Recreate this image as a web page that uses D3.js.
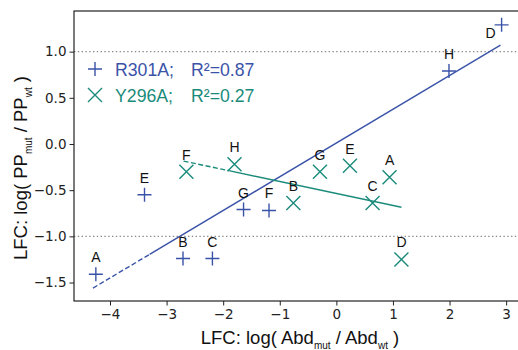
<!DOCTYPE html>
<html>
<head>
<meta charset="utf-8">
<script src="https://cdn.jsdelivr.net/npm/d3@7"></script>
<style>
  body { margin: 0; background: #fff; }
  svg { font-family: "Liberation Sans", Arial, sans-serif; }
  .tick text { font-size: 13.5px; fill: #222; }
  .pt-label { font-size: 14px; fill: #111; text-anchor: middle; }
</style>
</head>
<body>
<svg width="518" height="350"></svg>
<script>
// **** data ****
var labels = ['A', 'B', 'C', 'D', 'E', 'F', 'G', 'H'];

var r301X = [-4.25, -2.71, -2.19, 2.92, -3.39, -1.19, -1.64, 1.99];
var r301Y = [-1.41, -1.24, -1.24, 1.29, -0.55, -0.72, -0.71, 0.79];

var y296X = [0.94, -0.76, 0.64, 1.15, 0.24, -2.65, -0.29, -1.80];
var y296Y = [-0.36, -0.64, -0.64, -1.25, -0.235, -0.30, -0.30, -0.22];

// fitted lines (start, end of dashed bit, end)
var fitR301X = [-4.3, -3.3, 2.9];
var fitR301Y = [-1.56, -1.195, 1.07];
var fitY296X = [-2.7, -1.9, 1.15];
var fitY296Y = [-0.185, -0.289, -0.685];

var xTicks = [-4, -3, -2, -1, 0, 1, 2, 3];
var yTicks = [-1.5, -1.0, -0.5, 0.0, 0.5, 1.0];
var refLines = [1.0, -1.0];

var blue = '#3a53a8';
var teal = '#1a8b7b';

// **** scales ****
var xScale = d3.scaleLinear().domain([-4.636, 3.245]).range([74, 520]);
var yScale = d3.scaleLinear().domain([-1.70, 1.44]).range([301, 11]);

var svg = d3.select('svg');

// dotted reference lines
svg.selectAll('.ref').data(refLines).enter().append('line')
    .attr('class', 'ref')
    .attr('x1', 74).attr('x2', 520)
    .attr('y1', function(d) { return yScale(d); })
    .attr('y2', function(d) { return yScale(d); })
    .style('stroke', '#8a8a8a')
    .style('stroke-width', 1.4)
    .style('stroke-dasharray', '1.4,2.4');

// axes
var xAxis = svg.append('g').attr('class', 'x axis')
    .attr('transform', 'translate(0,301)')
    .call(d3.axisBottom(xScale).tickValues(xTicks).tickSize(4.5).tickPadding(4)
        .tickFormat(d3.format('d')));

var yAxis = svg.append('g').attr('class', 'y axis')
    .attr('transform', 'translate(74,0)')
    .call(d3.axisLeft(yScale).tickValues(yTicks).tickSize(4.5).tickPadding(3)
        .tickFormat(d3.format('.1f')));

svg.selectAll('.axis .domain').remove();
svg.selectAll('.axis .tick line').style('stroke', '#222').style('stroke-width', 1);
xAxis.selectAll('text').style('font-family', 'DejaVu Sans');
yAxis.selectAll('text').style('font-family', 'DejaVu Sans');

// frame
svg.append('rect')
    .attr('x', 74).attr('y', 11).attr('width', 446).attr('height', 290)
    .style('fill', 'none').style('stroke', '#222').style('stroke-width', 1.2);

// fit lines: short dashed part then solid
function drawFit(xs, ys, color) {
    svg.append('line')
        .attr('x1', xScale(xs[0])).attr('y1', yScale(ys[0]))
        .attr('x2', xScale(xs[1])).attr('y2', yScale(ys[1]))
        .style('stroke', color).style('stroke-width', 1.4)
        .style('stroke-dasharray', '5,2.5');
    svg.append('line')
        .attr('x1', xScale(xs[1])).attr('y1', yScale(ys[1]))
        .attr('x2', xScale(xs[2])).attr('y2', yScale(ys[2]))
        .style('stroke', color).style('stroke-width', 1.4);
}
drawFit(fitR301X, fitR301Y, blue);
drawFit(fitY296X, fitY296Y, teal);

var plusPath = 'M-7,0H7M0,-7V7';
var crossPath = 'M-7,-7L7,7M-7,7L7,-7';

// R301A points
svg.selectAll('.r301').data(labels).enter().append('path')
    .attr('class', 'r301')
    .attr('d', plusPath)
    .attr('transform', function(d, i) {
        return 'translate(' + xScale(r301X[i]) + ',' + yScale(r301Y[i]) + ')';
    })
    .style('stroke', blue).style('stroke-width', 1.4).style('fill', 'none');

// Y296A points
svg.selectAll('.y296').data(labels).enter().append('path')
    .attr('class', 'y296')
    .attr('d', crossPath)
    .attr('transform', function(d, i) {
        return 'translate(' + xScale(y296X[i]) + ',' + yScale(y296Y[i]) + ')';
    })
    .style('stroke', teal).style('stroke-width', 1.4).style('fill', 'none');

// point labels
svg.selectAll('.lab-r').data(labels).enter().append('text')
    .attr('class', 'pt-label lab-r')
    .attr('x', function(d, i) { return xScale(r301X[i]) + (d == 'D' ? -11 : 0); })
    .attr('y', function(d, i) { return yScale(r301Y[i]) + (d == 'D' ? 13 : -12); })
    .text(function(d) { return d; });

svg.selectAll('.lab-y').data(labels).enter().append('text')
    .attr('class', 'pt-label lab-y')
    .attr('x', function(d, i) { return xScale(y296X[i]); })
    .attr('y', function(d, i) { return yScale(y296Y[i]) - 12; })
    .text(function(d) { return d; });

// legend
var legend = [
    { name: 'R301A;', r2: 'R²=0.87', color: blue, path: plusPath },
    { name: 'Y296A;', r2: 'R²=0.27', color: teal, path: crossPath }
];
legend.forEach(function(l, i) {
    var y = 69 + i * 26;
    svg.append('path').attr('d', l.path)
        .attr('transform', 'translate(95,' + y + ')')
        .style('stroke', l.color).style('stroke-width', 1.4).style('fill', 'none');
    svg.append('text').attr('x', 115).attr('y', y + 6.5)
        .style('font-size', '17.7px').style('fill', l.color).text(l.name);
    svg.append('text').attr('x', 191).attr('y', y + 6.5)
        .style('font-size', '17.7px').style('fill', l.color).text(l.r2);
});

// axis labels
var xl = svg.append('text')
    .attr('x', 300).attr('y', 344)
    .style('font-size', '18.5px').style('text-anchor', 'middle').style('fill', '#111');
xl.append('tspan').text('LFC: log( Abd');
xl.append('tspan').attr('dy', 5).style('font-size', '10px').text('mut');
xl.append('tspan').attr('dy', -5).text(' / Abd');
xl.append('tspan').attr('dy', 5).style('font-size', '10px').text('wt');
xl.append('tspan').attr('dy', -5).text(' )');

var yl = svg.append('text')
    .attr('transform', 'translate(27,168) rotate(-90)')
    .style('font-size', '18.5px').style('text-anchor', 'middle').style('fill', '#111');
yl.append('tspan').text('LFC: log( PP');
yl.append('tspan').attr('dy', 5).style('font-size', '10px').text('mut');
yl.append('tspan').attr('dy', -5).text(' / PP');
yl.append('tspan').attr('dy', 5).style('font-size', '10px').text('wt');
yl.append('tspan').attr('dy', -5).text(' )');
</script>
</body>
</html>
